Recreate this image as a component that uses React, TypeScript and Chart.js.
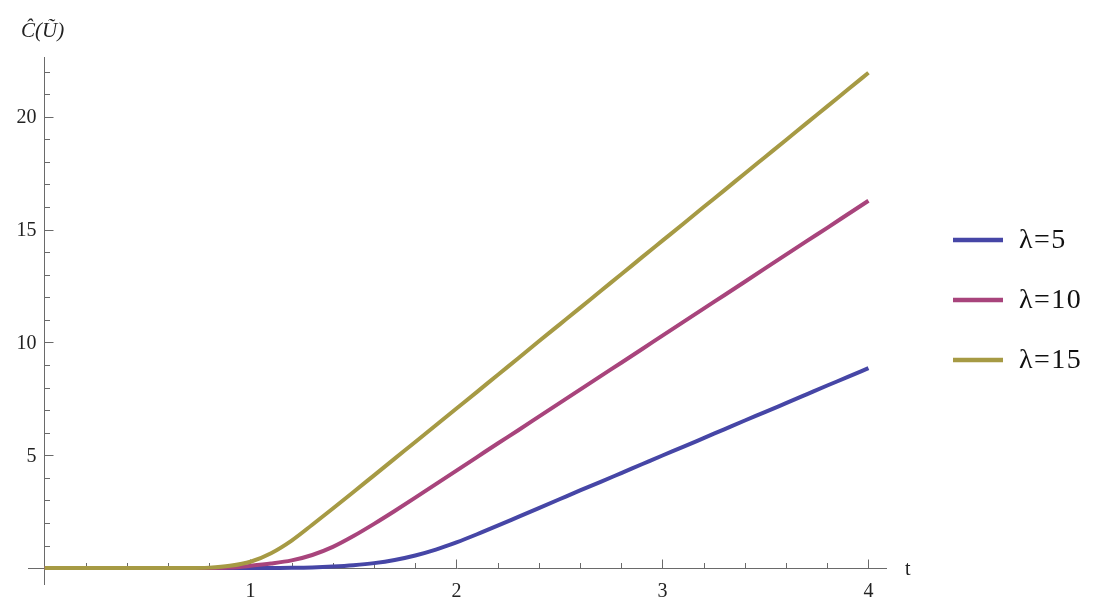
import React, { useEffect, useRef } from "react";
import { Chart, registerables } from "chart.js";

Chart.register(...registerables);

const tValues = [
  0, 0.1, 0.2, 0.3, 0.4, 0.5, 0.6, 0.7, 0.8, 0.9,
  1.0, 1.1, 1.2, 1.3, 1.4, 1.5, 1.6, 1.7, 1.8, 1.9,
  2.0, 2.1, 2.2, 2.3, 2.4, 2.5, 2.6, 2.7, 2.8, 2.9,
  3.0, 3.1, 3.2, 3.3, 3.4, 3.5, 3.6, 3.7, 3.8, 3.9, 4.0,
];

const lambda5 = [
  0, 0, 0, 0, 0, 0, 0, 0, 0, 0,
  0, 0, 0.01, 0.03, 0.07, 0.13, 0.22, 0.36, 0.56, 0.82,
  1.14, 1.5, 1.88, 2.27, 2.66, 3.05, 3.44, 3.82, 4.21, 4.6,
  4.99, 5.37, 5.76, 6.15, 6.54, 6.92, 7.31, 7.7, 8.09, 8.47, 8.86,
];

const lambda10 = [
  0, 0, 0, 0, 0, 0, 0, 0, 0, 0.02,
  0.1, 0.2, 0.34, 0.58, 0.94, 1.42, 1.96, 2.53, 3.12, 3.72,
  4.32, 4.92, 5.52, 6.11, 6.71, 7.31, 7.91, 8.51, 9.1, 9.7,
  10.3, 10.9, 11.5, 12.09, 12.69, 13.29, 13.89, 14.49, 15.08, 15.68, 16.28,
];

const lambda15 = [
  0, 0, 0, 0, 0, 0, 0, 0, 0.02, 0.1,
  0.28, 0.66, 1.22, 1.92, 2.64, 3.37, 4.11, 4.85, 5.59, 6.33,
  7.07, 7.81, 8.56, 9.3, 10.05, 10.79, 11.53, 12.28, 13.02, 13.77,
  14.51, 15.25, 16.0, 16.74, 17.49, 18.23, 18.97, 19.72, 20.46, 21.21, 21.95,
];

const seriesLabels = ["λ=5", "λ=10", "λ=15"];
const seriesColors = ["#4646a6", "#a8447c", "#a69a44"];

const xMajorTicks = [1, 2, 3, 4];
const xMinorTicks = [0.2, 0.4, 0.6, 0.8, 1.2, 1.4, 1.6, 1.8, 2.2, 2.4, 2.6, 2.8, 3.2, 3.4, 3.6, 3.8];
const yMajorTicks = [5, 10, 15, 20];
const yMinorTicks = [1, 2, 3, 4, 6, 7, 8, 9, 11, 12, 13, 14, 16, 17, 18, 19, 21, 22];

const xAxisLabel = "t";
const yAxisLabel = "Ĉ(Ũ)";

const SERIF = "'Liberation Serif', 'DejaVu Serif', serif";

const axesPlugin = {
  id: "mmaAxes",
  beforeDatasetsDraw(chart: any) {
    const { ctx, scales } = chart;
    const xs = scales.x;
    const ys = scales.y;
    const x0 = Math.round(xs.getPixelForValue(0)) + 0.5;
    const y0 = Math.round(ys.getPixelForValue(0)) + 0.5;
    ctx.save();
    ctx.strokeStyle = "#6a6a6a";
    ctx.lineWidth = 1;
    ctx.beginPath();
    ctx.moveTo(xs.getPixelForValue(xs.min), y0);
    ctx.lineTo(xs.getPixelForValue(xs.max), y0);
    ctx.moveTo(x0, ys.getPixelForValue(ys.min));
    ctx.lineTo(x0, ys.getPixelForValue(ys.max));
    for (const v of xMajorTicks) {
      const p = Math.round(xs.getPixelForValue(v)) + 0.5;
      ctx.moveTo(p, y0);
      ctx.lineTo(p, y0 - 9);
    }
    for (const v of xMinorTicks) {
      const p = Math.round(xs.getPixelForValue(v)) + 0.5;
      ctx.moveTo(p, y0);
      ctx.lineTo(p, y0 - 5.5);
    }
    for (const v of yMajorTicks) {
      const p = Math.round(ys.getPixelForValue(v)) + 0.5;
      ctx.moveTo(x0, p);
      ctx.lineTo(x0 + 9, p);
    }
    for (const v of yMinorTicks) {
      const p = Math.round(ys.getPixelForValue(v)) + 0.5;
      ctx.moveTo(x0, p);
      ctx.lineTo(x0 + 5.5, p);
    }
    ctx.stroke();

    ctx.fillStyle = "#222";
    ctx.font = `20px ${SERIF}`;
    ctx.textAlign = "center";
    ctx.textBaseline = "middle";
    for (const v of xMajorTicks) {
      ctx.fillText(String(v), xs.getPixelForValue(v), y0 + 23);
    }
    ctx.textAlign = "right";
    for (const v of yMajorTicks) {
      ctx.fillText(String(v), x0 - 8, ys.getPixelForValue(v) + 1);
    }
    ctx.textAlign = "left";
    ctx.fillText(xAxisLabel, xs.getPixelForValue(xs.max) + 18, y0 + 1);
    ctx.font = `italic 21px ${SERIF}`;
    ctx.textBaseline = "alphabetic";
    ctx.fillText(yAxisLabel, 21, 37);
    ctx.restore();
  },
  afterDraw(chart: any) {
    const { ctx } = chart;
    ctx.save();
    chart.data.datasets.forEach((ds: any, i: number) => {
      const yc = 240 + i * 60;
      ctx.strokeStyle = ds.borderColor;
      ctx.lineWidth = 4.5;
      ctx.beginPath();
      ctx.moveTo(953, yc);
      ctx.lineTo(1003, yc);
      ctx.stroke();
      ctx.fillStyle = "#111";
      ctx.font = `28px ${SERIF}`;
      try { (ctx as any).letterSpacing = "1.5px"; } catch (e) {}
      ctx.textAlign = "left";
      ctx.textBaseline = "middle";
      ctx.fillText(ds.label, 1019, yc + 1);
    });
    ctx.restore();
  },
};

export default function App() {
  const ref = useRef<HTMLCanvasElement | null>(null);
  useEffect(() => {
    if (!ref.current) return;
    const series = [lambda5, lambda10, lambda15];
    const chart = new Chart(ref.current, {
      type: "line",
      data: {
        datasets: series.map((vals, i) => ({
          label: seriesLabels[i],
          data: tValues.map((t, j) => ({ x: t, y: vals[j] })),
          borderColor: seriesColors[i],
          backgroundColor: seriesColors[i],
          borderWidth: 4,
          pointRadius: 0,
          order: series.length - 1 - i,
          cubicInterpolationMode: "monotone" as const,
          fill: false,
        })),
      },
      options: {
        animation: false,
        responsive: false,
        devicePixelRatio: 1,
        layout: { padding: { left: 28, top: 57, right: 217, bottom: 28 } },
        plugins: { legend: { display: false }, tooltip: { enabled: false } },
        scales: {
          x: { type: "linear", min: -0.08, max: 4.09, display: false },
          y: { type: "linear", min: -0.75, max: 22.65, display: false },
        },
      },
      plugins: [axesPlugin],
    });
    return () => chart.destroy();
  }, []);
  return (
    <div style={{ position: "absolute", left: 0, top: 0, width: 1104, height: 613, background: "#fff" }}>
      <canvas ref={ref} width={1104} height={613} />
    </div>
  );
}
